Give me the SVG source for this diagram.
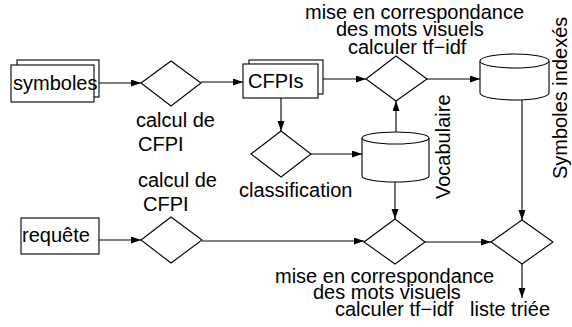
<svg xmlns="http://www.w3.org/2000/svg" width="572" height="327" viewBox="0 0 572 327">
<style>
.s{fill:white;stroke:black;stroke-width:1.1}
.c{fill:none;stroke:black;stroke-width:1.1}
text{font-family:"Liberation Sans",Arial,sans-serif;font-size:20px;fill:black}
</style>
<defs>
<marker id="a" markerUnits="userSpaceOnUse" markerWidth="11" markerHeight="8" refX="10" refY="3.5" orient="auto">
<path d="M0,0 L10,3.5 L0,7 z" fill="black"/>
</marker>
</defs>
<rect width="572" height="327" fill="white"/>
<g id="connectors" class="c" marker-end="url(#a)">
<line x1="99" y1="83" x2="141" y2="83"/>
<line x1="201" y1="82" x2="243" y2="82"/>
<line x1="323" y1="79" x2="366" y2="79"/>
<line x1="427" y1="79" x2="480" y2="79"/>
<line x1="281" y1="98" x2="281" y2="131"/>
<line x1="311" y1="154" x2="362" y2="154"/>
<line x1="396" y1="138" x2="396" y2="101"/>
<line x1="395" y1="182" x2="395" y2="219"/>
<line x1="522" y1="100" x2="522" y2="220"/>
<line x1="99" y1="240" x2="141" y2="240"/>
<line x1="202" y1="241" x2="364" y2="241"/>
<line x1="425" y1="242" x2="491" y2="242"/>
<line x1="522" y1="264" x2="522" y2="298"/>
</g>
<g id="symboles">
<rect class="s" x="17" y="60" width="82" height="37"/>
<rect class="s" x="11" y="65" width="83" height="37"/>
<text x="13" y="90">symboles</text>
</g>
<g id="calcul1">
<polygon class="s" points="141,83 171,61 201,83 171,106"/>
<text x="136" y="127">calcul de</text>
<text x="138" y="151">CFPI</text>
</g>
<g id="cfpis">
<rect class="s" x="249" y="60" width="74" height="34"/>
<rect class="s" x="243" y="64" width="75" height="34"/>
<text x="248" y="88">CFPIs</text>
</g>
<g id="mise1">
<polygon class="s" points="366,79 396,56 427,79 396,101"/>
<text x="305" y="19">mise en correspondance</text>
<text x="336" y="36">des mots visuels</text>
<text x="348" y="54">calculer tf−idf</text>
</g>
<g id="symbolesindexes">
<path class="s" d="M480,61 L480,93 A34.5,7 0 0 0 549,93 L549,61"/>
<ellipse class="s" cx="514.5" cy="61" rx="34.5" ry="7"/>
<text transform="translate(567,179) rotate(-90)">Symboles indexés</text>
</g>
<g id="classification">
<polygon class="s" points="251,154 281,131 311,154 281,177"/>
<text x="239" y="197">classification</text>
</g>
<g id="vocabulaire">
<path class="s" d="M362,138 L362,176 A33.5,6 0 0 0 429,176 L429,138"/>
<ellipse class="s" cx="395.5" cy="138" rx="33.5" ry="6"/>
<text transform="translate(450,199) rotate(-90)">Vocabulaire</text>
</g>
<g id="requete">
<rect class="s" x="21" y="218" width="78" height="36"/>
<text x="22" y="242">requête</text>
</g>
<g id="calcul2">
<polygon class="s" points="141,240 171,217 202,240 171,263"/>
<text x="138" y="187">calcul de</text>
<text x="143" y="211">CFPI</text>
</g>
<g id="mise2">
<polygon class="s" points="364,242 395,219 425,242 395,264"/>
<text x="275" y="283">mise en correspondance</text>
<text x="313" y="299">des mots visuels</text>
<text x="335" y="316">calculer tf−idf</text>
</g>
<g id="tri">
<polygon class="s" points="491,242 522,220 553,242 522,264"/>
<text x="470" y="316">liste triée</text>
</g>
</svg>
